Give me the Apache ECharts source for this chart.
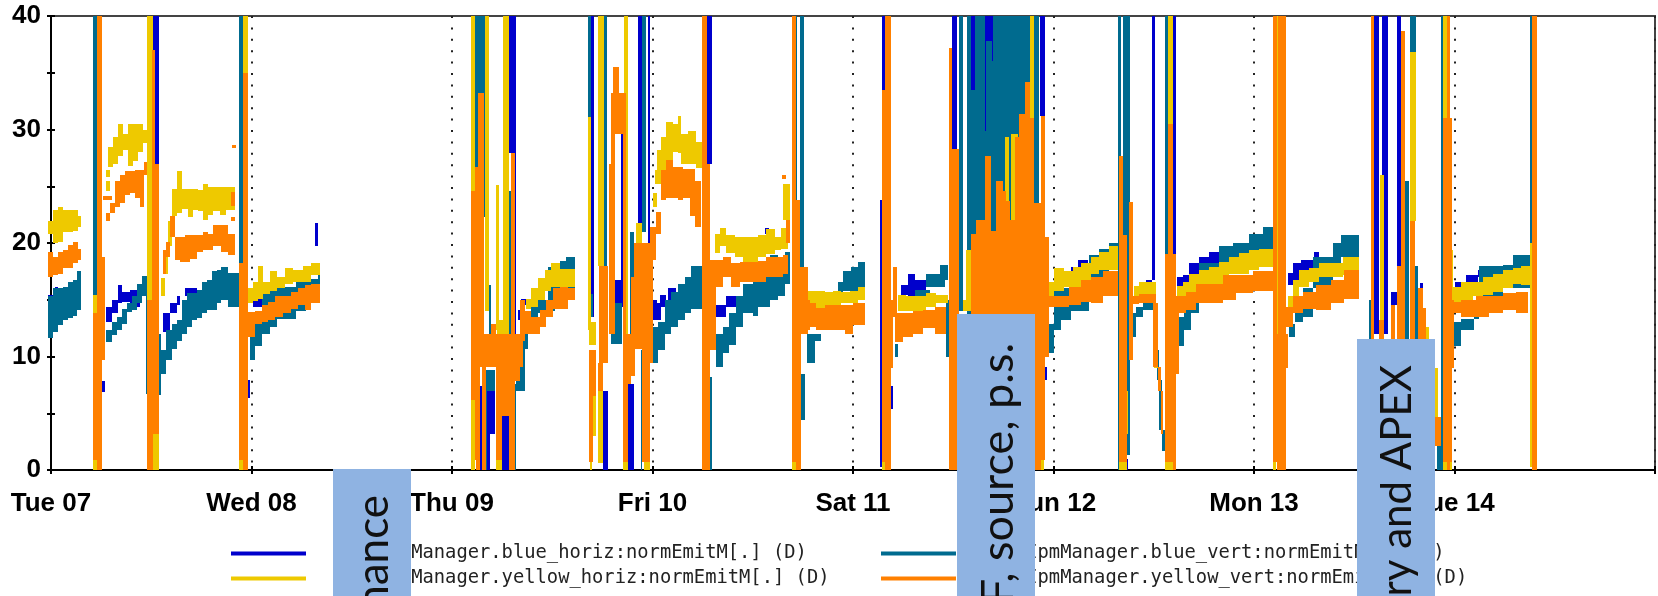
<!DOCTYPE html>
<html><head><meta charset="utf-8">
<style>html,body{margin:0;padding:0;background:#fff}#c{width:1658px;height:596px}</style>
<script src="https://cdn.jsdelivr.net/npm/echarts@6/dist/echarts.min.js"></script>
</head><body><div id="c"></div>
<script>
const dayLabels=["Tue 07","Wed 08","Thu 09","Fri 10","Sat 11","Sun 12","Mon 13","Tue 14",""];
const yTicks=[0,10,20,30,40];
const seriesNames=["RhicIpmManager.blue_horiz:normEmitM[.] (D)","RhicIpmManager.blue_vert:normEmitM[.] (D)","RhicIpmManager.yellow_horiz:normEmitM[.] (D)","RhicIpmManager.yellow_vert:normEmitM[.] (D)"];
// each row: [day from, day to, low value, high value]
const blueHoriz=[[-.013,.012,14.4,15.4],[.018,.037,15.3,16.1],[.252,.269,6.9,7.8],[.272,.302,13,14.4],[.302,.336,13.8,15],[.336,.352,14.7,16.3],[.352,.394,14.8,15.7],[.394,.444,14.4,15.9],[.452,.480,16.6,17.1],[.510,.538,27,40],
[.557,.593,12.2,13.8],[.593,.626,13.8,14.7],[.626,.643,14.5,15.3],[.668,.726,15.3,16],[.983,.995,6.3,7.9],[1.008,1.042,14.4,15.1],[1.042,1.108,14.4,15.6],[1.316,1.332,19.7,21.8],
[2.139,2.150,0,7.4],[2.172,2.190,0,7],[2.190,2.213,3.2,7],[2.247,2.283,0,4.8],[2.283,2.321,27.9,40],[2.313,2.321,12,27.9],[2.330,2.343,13.2,14.1],[2.343,2.371,14.5,15.1],
[2.695,2.710,13.5,40],[2.700,2.717,5.2,7],[2.753,2.778,0,7],[2.811,2.848,14.4,16.7],[2.843,2.858,14.4,33],[2.878,2.906,0,7.6],[2.926,2.949,20,40],[2.928,2.941,12.6,16.5],[2.977,2.986,14.4,40],[2.986,3.02,13.2,15],
[3.011,3.044,13.2,14.7],[3.036,3.069,14.4,15.4],[3.077,3.119,15,16],[3.272,3.298,27,40],[3.277,3.288,14.2,27],[3.318,3.368,13.5,14.5],[3.368,3.418,14.4,15.3],[3.568,3.585,14.4,15.4],[3.560,3.581,20.8,21.3],
[4.133,4.143,.3,23.8],[4.143,4.161,33.5,40],[4.189,4.199,5.4,7.4],[4.241,4.274,15.4,16.3],[4.274,4.307,15.3,17.3],[4.307,4.365,15.3,16.7],[4.493,4.520,28.3,40],[4.588,4.606,33.5,40],[4.656,4.664,29.9,40],[4.664,4.692,37.8,40],[4.692,4.700,36,40],[4.932,4.958,31.2,40],[4.960,4.966,7.9,9.1],
[5.087,5.112,17.3,17.9],[5.121,5.171,17.9,18.5],[5.365,5.373,0,1],[5.461,5.489,16.5,16.7],[5.489,5.508,16.7,40],[5.594,5.611,19,40],[5.614,5.644,15.3,17],[5.644,5.677,16.3,17.2],[5.677,5.727,17,18.2],[5.727,5.777,18.2,18.8],[5.777,5.827,18.2,19.2],
[6.168,6.193,16.3,17.4],[6.193,6.235,16.6,18.2],[6.235,6.293,17.3,18.5],[6.301,6.326,18.5,19.2],[6.393,6.409,19.7,20],[6.600,6.625,12,40],[6.638,6.667,12,40],[6.713,6.731,18,40],[6.683,6.712,14.5,15.7],[6.828,6.844,14.8,16.5],
[7.004,7.057,15.6,16.6],[7.057,7.115,16.3,17.2],[7.115,7.140,17,17.6],[7.140,7.190,16.6,17.3]];
const blueVert=[[-.013,.012,11.6,15.3],[.012,.037,12.2,16],[.037,.061,12.8,16],[.061,.086,13.2,16.1],[.086,.111,13.4,16.6],[.111,.128,13.6,16.7],[.128,.148,14.1,17.5],[.211,.231,15.4,40],
[.272,.302,11.3,12.3],[.302,.327,11.9,13],[.327,.352,12.3,13.5],[.352,.377,12.9,14.2],[.377,.402,13.9,14.7],[.402,.427,14.1,15.3],[.427,.452,14.7,16.4],[.452,.473,15.3,17.1],[.473,.480,6.7,17.1],[.538,.547,6.6,12],
[.551,.576,8.5,10.6],[.576,.601,9.7,12.3],[.601,.626,10.7,12.9],[.626,.651,11.4,13.2],[.651,.676,12,15],[.676,.701,12.6,15.6],[.701,.726,13.2,15.6],[.726,.751,13.4,15.9],[.751,.776,13.8,16.6],[.776,.801,14.1,16.7],[.801,.826,14.1,17.5],[.826,.850,14.7,17.6],[.850,.884,15,17.9],[.884,.937,14.4,17.4],[.937,.958,18.2,40],
[.992,1.017,9.7,13],[1.017,1.050,10.9,14],[1.050,1.091,12,15.7],[1.091,1.125,12.6,16],[1.125,1.158,13.3,16.1],[1.158,1.224,13.3,16.1],[1.224,1.274,14,16.6],[1.274,1.332,14.7,16.8],[1.332,1.344,15.1,17.9],
[2.114,2.130,24.6,40],[2.130,2.173,22.3,40],[2.169,2.172,0,8.8],[2.172,2.213,7,8.8],[2.185,2.197,11.2,16.3],[2.283,2.296,12,24.6],[2.313,2.321,0,7.6],[2.321,2.363,7,11.1],[2.355,2.380,10.7,12],[2.380,2.396,12,13.8],[2.396,2.429,13.2,14.5],[2.429,2.479,13.8,15],[2.479,2.512,14,17.9],[2.512,2.537,15,18],[2.537,2.571,16,18.4],[2.571,2.612,15.3,18.8],
[2.680,2.695,31.1,40],[2.757,2.773,12,40],[2.695,2.703,13.5,15.5],[2.886,2.906,12,21],[2.941,2.949,0,10.6],[2.949,2.966,21,40],[2.795,2.848,11.1,14.7],
[3.0,3.027,9.4,12.6],[3.027,3.061,10.6,13],[3.061,3.094,12,15],[3.094,3.127,12.6,15.7],[3.127,3.160,13.2,16.4],[3.160,3.193,13.8,17],[3.193,3.248,14.2,18],[3.288,3.298,0,8.2],
[3.318,3.351,9.1,12],[3.351,3.384,10.3,12.6],[3.384,3.418,11,13.8],[3.418,3.451,12.6,15.3],[3.451,3.501,13.8,16.4],[3.501,3.527,13.6,16.7],[3.527,3.585,14.4,17.3],[3.585,3.626,15,18.9],[3.626,3.659,15.3,18.8],[3.659,3.688,16.4,19.2],
[3.714,3.723,23.8,40],[3.734,3.754,14.7,40],[3.742,3.759,4.4,8.5],[3.771,3.809,9.4,12],[3.809,3.842,11.4,12],[3.859,3.925,14.4,15.7],[3.925,3.950,15.5,16.6],[3.950,3.992,15.8,17.5],[3.992,4.025,15.8,17.9],[4.025,4.058,15.8,18.3],
[4.211,4.224,10,11.1],[4.307,4.382,15,15.9],[4.365,4.457,16.1,17.3],[4.432,4.473,16.7,18.1],[4.465,4.477,10,15],[4.531,4.548,14,40],[4.568,4.588,12,40],[4.588,4.606,12,33.5],[4.606,4.656,12,40],[4.656,4.664,12,29.9],[4.664,4.692,12,37.8],[4.692,4.700,12,36],[4.700,4.885,12,40],[4.905,4.927,13,40],
[4.971,5.004,10.3,12.9],[5.004,5.038,12.3,15.8],[5.038,5.087,13.2,16],[5.087,5.179,14,16.7],[5.179,5.229,15,18.9],[5.229,5.279,17,19.5],[5.279,5.320,18.8,20],[5.322,5.338,0,40],[5.348,5.383,1.3,40],
[5.395,5.411,11.7,13.8],[5.411,5.445,13.5,14.4],[5.445,5.494,14.1,14.7],[5.494,5.511,12,14.5],[5.503,5.514,10.6,12],[5.514,5.524,7.9,10.6],[5.524,5.541,3.5,7.9],[5.541,5.554,1.7,3.5],[5.558,5.571,19,40],
[5.624,5.652,10.9,13.5],[5.652,5.686,12.3,14.1],[5.686,5.727,13.8,16.4],[5.727,5.827,15,18.2],[5.827,5.893,17.9,19.7],[5.893,5.976,18.5,20],[5.976,6.043,18.8,20.8],[6.043,6.096,19.1,21.4],
[6.177,6.202,11.7,12.9],[6.202,6.243,13,13.8],[6.243,6.293,13.5,16],[6.293,6.393,16,18.8],[6.393,6.434,18,20],[6.434,6.522,18.8,20.7],[6.572,6.584,11,15],[6.751,6.771,11,25.5],[6.780,6.808,36.8,40],[6.805,6.816,11.5,18],[6.913,6.937,0,3],[6.932,6.942,0,40],
[6.999,7.032,10.9,13],[7.032,7.099,12.3,13.3],[7.099,7.123,13.3,15],[7.123,7.240,15,18],[7.240,7.290,16,18.1],[7.290,7.376,16,18.9],[7.376,7.389,20,40]];
const yellowHoriz=[[-.013,.012,20.8,21.9],[.012,.037,20,22.9],[.037,.061,20.1,23.2],[.061,.086,21,22.9],[.086,.111,21,22.9],[.111,.136,21.1,22.9],[.136,.148,21.4,22.4],[.211,.231,0,15.4],
[.272,.294,24.6,25.5],[.272,.294,25.8,26.4],[.286,.311,26.7,28.5],[.311,.336,27,29.3],[.336,.360,27.7,30.5],[.360,.385,28.2,29.6],[.385,.410,26.8,30.5],[.410,.435,27.2,30.5],[.435,.460,28,30.5],[.460,.480,28.8,30],[.480,.510,0,40],[.510,.538,0,3.2],
[.551,.568,15.3,16.9],[.560,.585,17.3,19.4],[.585,.601,19.7,21.9],[.601,.626,22.4,24.8],[.626,.651,22.6,26.3],[.651,.684,23,24.8],[.684,.709,22.3,24.8],[.709,.734,22.9,24.8],[.734,.759,22.8,24.7],[.759,.784,22,25.2],[.784,.809,22.5,24.9],[.809,.842,22.8,24.9],[.842,.875,22.5,24.9],[.875,.917,22.9,24.9],[.937,.958,0,.9],[.958,.983,35,40],
[.983,1.008,14.7,16],[1.008,1.033,14.9,16.6],[1.033,1.058,15.1,18],[1.058,1.091,15.5,16.6],[1.091,1.125,15.8,17.5],[1.125,1.166,16,17],[1.166,1.208,16.4,17.8],[1.208,1.257,16.6,17.6],[1.257,1.299,16.6,18],[1.299,1.344,17.2,18.2],
[2.094,2.114,0,40],[2.164,2.185,14,40],[2.218,2.235,12.3,25.1],[2.255,2.283,11.4,40],[2.217,2.247,0,.9],[2.225,2.283,11.4,13.2],[2.371,2.396,14.2,15.1],[2.396,2.429,14.4,16],[2.429,2.463,15,16.9],[2.463,2.496,15.8,17.6],[2.496,2.537,16.1,18.2],[2.537,2.579,16.1,17.7],[2.579,2.612,16.1,17.7],
[2.680,2.695,12.3,31.1],[2.684,2.717,11,13],[2.728,2.757,18,40],[2.858,2.880,12,40],[2.919,2.949,20,21.8],[2.687,2.698,0,.7],[2.695,2.717,3,7],[2.728,2.753,.6,7],[2.853,2.878,0,.7],[2.956,2.986,0,.7],
[3.0,3.022,23.2,24.4],[3.011,3.036,25.2,26.4],[3.022,3.044,25.2,28.2],[3.044,3.069,26.4,29.3],[3.069,3.102,27.3,30.7],[3.102,3.127,28,30.5],[3.127,3.144,27.9,31.2],[3.144,3.177,27,29.6],[3.177,3.218,27,29.9],[3.218,3.248,26.6,28.9],
[3.310,3.335,19.1,20.8],[3.335,3.368,19.7,21.3],[3.368,3.409,19.1,20.7],[3.409,3.451,18.8,20.5],[3.451,3.527,18.3,20.5],[3.527,3.568,18.8,20.7],[3.568,3.610,19,21.2],[3.610,3.643,19.4,20.5],[3.643,3.676,19.5,21.3],[3.651,3.688,22,25.2],[3.698,3.714,0,.7],
[3.776,3.817,14.4,15.8],[3.817,3.859,14.1,15.8],[3.859,3.900,14.4,15.7],[3.900,3.942,14.4,15.8],[3.942,3.983,14.7,15.7],[3.983,4.025,14.7,15.8],[4.025,4.058,15,16.1],[4.143,4.172,0,.7],
[4.224,4.266,14,15.4],[4.266,4.316,14,15.3],[4.316,4.365,14,15.3],[4.365,4.415,14.4,15.6],[4.415,4.473,14.7,15.4],[4.551,4.565,14,15],[4.565,4.590,14,19.4],[4.759,4.777,22,29.3],[4.789,4.822,22,29.6],[4.885,4.905,31,40],[4.938,4.955,0,.9],
[4.976,5.004,15.3,16.6],[5.004,5.054,15.8,17.8],[5.054,5.096,16.1,17.5],[5.096,5.137,16.1,17.9],[5.137,5.187,16.4,18.2],[5.187,5.229,17.3,18.8],[5.229,5.279,17.6,19.2],[5.279,5.320,17.6,19.7],[5.327,5.365,0,.7],[5.365,5.373,3.2,7],
[5.403,5.428,14.7,16.2],[5.428,5.511,15.3,16.6],[5.503,5.519,9,14.5],[5.571,5.594,30.5,40],[5.558,5.594,0,.7],
[5.614,5.644,14.4,16.2],[5.644,5.677,15,16.6],[5.677,5.727,15.5,17.3],[5.727,5.777,15.9,17.6],[5.777,5.827,16.3,17.9],[5.827,5.877,16.4,18.3],[5.877,5.926,17.3,18.8],[5.926,5.976,17.3,19.1],[5.976,6.026,17.6,19.4],[6.026,6.096,17.9,19.5],[6.096,6.109,0,.7],[6.117,6.122,12,40],
[6.168,6.193,14.1,15.3],[6.193,6.226,15.3,16.7],[6.226,6.276,16.1,17.6],[6.276,6.326,16.6,17.8],[6.326,6.376,17,18.2],[6.376,6.442,17,18.2],[6.442,6.522,17.2,18.8],[6.628,6.647,11,26],[6.780,6.808,21.9,36.8],[6.858,6.874,11,12.6],[6.899,6.916,3,9],[6.942,6.962,31,40],[6.942,6.987,0,.7],[6.982,6.991,14.4,19.4],
[6.994,7.032,14.8,16.1],[7.032,7.090,15,16.6],[7.090,7.140,15.3,16.6],[7.140,7.190,15.4,17],[7.190,7.240,15.7,17.3],[7.240,7.290,16,17.6],[7.290,7.331,16.4,17.8],[7.331,7.376,16.3,18],[7.376,7.389,.3,20]];
const yellowVert=[[-.013,.012,17,19.2],[.012,.037,17.2,18.8],[.037,.061,17.3,19.2],[.061,.086,17.8,19.4],[.086,.111,17.8,19.8],[.111,.136,18.2,20.1],[.136,.148,18.5,19.5],
[.211,.231,.9,13.8],[.231,.252,0,40],[.252,.269,9.7,18.8],[.260,.302,23.8,24.1],[.272,.294,21.9,22.6],[.294,.319,22.6,23.5],[.319,.344,23.2,25.5],[.344,.369,23.5,26],[.369,.394,24.2,26.3],[.394,.419,24.4,26.3],[.419,.444,24,26.4],[.444,.463,23.2,26.4],[.463,.480,26,27.1],
[.480,.502,0,15],[.502,.510,0,37],[.510,.518,3.2,37],[.518,.538,3.2,27],[.560,.576,17.3,19.4],[.576,.593,18.8,20.1],[.593,.618,20.5,22.4],[.618,.643,18.5,20.5],[.643,.668,18.3,20.5],[.668,.693,18.3,20.7],[.693,.726,18.6,20.7],[.726,.759,19.2,20.7],[.759,.784,19.4,21],[.784,.809,19.4,20.8],[.809,.850,19.7,21.6],[.850,.884,19.2,21.6],[.884,.917,18.9,20.8],[.900,.917,23.3,24.5],[.900,.917,21.9,22.3],[.905,.925,28.4,28.6],
[.937,.958,.9,18.2],[.958,.983,0,35],[.983,1.017,11.7,13.9],[1.017,1.050,12.9,14],[1.050,1.083,13,14.5],[1.083,1.116,13.2,14.8],[1.116,1.158,13.5,15.3],[1.158,1.199,13.8,15.3],[1.199,1.233,14.2,15.7],[1.233,1.266,14.5,16],[1.266,1.299,14.1,16.3],[1.299,1.344,14.7,16.4],
[2.094,2.122,6.2,24.6],[2.114,2.130,.9,26.7],[2.130,2.159,11,33.2],[2.122,2.139,0,11],[2.150,2.169,0,11],[2.094,2.355,9.1,12],[2.197,2.217,9.7,12.9],[2.217,2.247,.9,9.7],[2.247,2.283,4.8,9.7],[2.283,2.313,0,9.7],[2.293,2.313,12,27.9],[2.313,2.338,7.8,12],[2.338,2.363,11.4,15],[2.363,2.396,12,14],[2.396,2.438,12,13.5],[2.438,2.471,12.6,14.1],[2.471,2.504,13.5,15],[2.504,2.537,14.2,16],[2.537,2.579,14.2,16.1],[2.579,2.612,15,16],
[2.684,2.703,.7,10.6],[2.687,2.720,6.5,10.6],[2.733,2.778,9.4,18],[2.728,2.753,7,9.4],[2.783,2.806,12,27],[2.795,2.811,12,33.2],[2.795,2.853,29.6,33.2],[2.803,2.831,33,35.5],[2.853,2.870,12,33.2],[2.853,2.878,.7,12],[2.878,2.894,7.6,12],[2.894,2.911,8.3,17],[2.906,2.949,10.7,20],[2.949,2.986,.7,20],[2.986,3.002,9.4,21.4],
[2.994,3.019,18.5,21.4],[3.019,3.044,20.8,22.7],[3.044,3.069,23.8,26.4],[3.069,3.102,24,27.3],[3.102,3.127,24,26.7],[3.127,3.152,23.8,26.7],[3.152,3.185,24,26.5],[3.185,3.210,22.4,26.5],[3.210,3.243,21.4,25.5],[3.248,3.272,0,40],[3.272,3.288,0,27],[3.288,3.318,10.6,18.5],
[3.293,3.351,16.1,18.5],[3.351,3.393,17,18.8],[3.393,3.434,16.1,18.2],[3.434,3.527,16.6,18.3],[3.527,3.568,16.6,18.4],[3.568,3.651,17,18.8],[3.651,3.676,17.3,18.9],[3.668,3.684,20,22],[3.646,3.668,25.6,26],
[3.698,3.714,.7,40],[3.714,3.734,0,23.8],[3.734,3.742,0,14.7],[3.734,3.776,12,17.9],[3.751,3.784,12.3,15],[3.784,3.817,12.6,14.7],[3.817,3.859,12.3,14.3],[3.859,3.900,12.3,14.5],[3.900,3.958,12.3,14.5],[3.958,4.0,12,14.5],[4.0,4.058,12.8,14.7],
[4.143,4.161,.7,33.5],[4.161,4.189,0,40],[4.189,4.199,9,15],[4.199,4.221,13.5,17.9],[4.211,4.249,11.3,13.8],[4.249,4.299,11.7,13.8],[4.299,4.349,12,14],[4.349,4.407,12.5,14.1],[4.407,4.465,12,14.4],
[4.477,4.493,0,37.2],[4.493,4.518,0,28.3],[4.512,4.531,0,28.3],[4.590,4.615,0,20.8],[4.615,4.656,0,22],[4.656,4.689,0,27.7],[4.689,4.714,0,21.1],[4.714,4.747,0,25.5],[4.747,4.764,0,24.6],[4.764,4.781,0,23.7],[4.781,4.806,0,22],[4.806,4.830,0,29.3],[4.830,4.860,0,31.4],[4.860,4.885,0,34.2],[4.885,4.905,0,31],[4.905,4.939,0,23.5],[4.939,4.958,.9,31.2],[4.955,4.976,10,20.5],
[4.971,5.013,14.4,15.3],[5.013,5.079,14.4,15.3],[5.079,5.137,14.5,16.1],[5.137,5.187,14.8,16.7],[5.187,5.245,14.7,17],[5.245,5.320,15.3,17.5],[5.327,5.365,.7,20.7],[5.327,5.345,.7,27.7],[5.375,5.395,9.7,23.6],
[5.395,5.428,14.6,15.3],[5.428,5.511,14.7,15.5],[5.494,5.519,9.1,14.7],[5.519,5.536,7,9.1],[5.536,5.548,3.2,7],[5.571,5.594,.7,30.5],[5.558,5.611,.7,19],[5.594,5.611,0,19],[5.611,5.624,8.5,15.3],
[5.611,5.661,13.8,15.3],[5.661,5.710,14.1,15.7],[5.710,5.777,14.7,16.4],[5.777,5.843,14.7,16.4],[5.843,5.910,15,17.2],[5.910,5.993,15.6,17.2],[5.993,6.096,15.8,17.5],[6.096,6.117,.7,40],[6.117,6.122,0,12],[6.122,6.162,0,40],[6.162,6.172,9,12],
[6.160,6.193,12.6,14.4],[6.193,6.243,13.8,15.3],[6.243,6.310,14.2,15.7],[6.310,6.384,14.1,16.3],[6.384,6.451,14.7,16.7],[6.451,6.522,15.1,17.6],[6.584,6.600,11,40],[6.625,6.650,11,13.2],[6.683,6.705,11,14.5],[6.713,6.751,11,18],[6.731,6.751,11,38.7],[6.780,6.805,11,21.9],[6.816,6.841,11,16],[6.841,6.858,11,14.3],[6.899,6.932,2.1,4.7],
[6.942,6.962,.7,31],[6.962,6.979,0,40],[6.979,6.987,.7,31],[6.987,6.999,9,15],[6.994,7.032,13.8,14.8],[7.032,7.107,13.5,15],[7.107,7.173,13.5,15.3],[7.173,7.240,13.8,15.3],[7.240,7.306,14.1,15.6],[7.306,7.369,13.8,15.7],[7.389,7.409,0,40]];
const colors=["#0000cc","#006b8f","#eec900","#ff8000"];
const maxDay=8, maxY=40;
const lblFont={fontFamily:"Liberation Sans",fontWeight:"bold",fontSize:26,color:"#000"};
function renderBand(params,api){
  const a=api.coord([api.value(0),api.value(3)]), b=api.coord([api.value(1),api.value(2)]);
  const x0=Math.round(a[0]), x1=Math.max(Math.round(b[0]),x0+1), y0=Math.round(a[1]), y1=Math.max(Math.round(b[1]),y0+1);
  return {type:"rect",shape:{x:x0,y:y0,width:x1-x0,height:y1-y0},style:{fill:api.visual("color")}};
}
const rowsFor=[blueHoriz,blueVert,yellowHoriz,yellowVert];
const series=seriesNames.map((n,i)=>({type:"custom",name:n,renderItem:renderBand,data:rowsFor[i],encode:{x:[0,1],y:[2,3]},itemStyle:{color:colors[i]},z:2+i,animation:false,silent:true}));
const legendAt=[[231,541],[881,541],[231,566],[881,566]];
const legends=legendAt.map((p,i)=>({show:true,data:[{name:seriesNames[i],icon:"rect"}],left:p[0],top:p[1],itemWidth:75,itemHeight:4,selectedMode:false,padding:0,
  textStyle:{fontFamily:"DejaVu Sans Mono",fontSize:18.8,color:"#222",padding:[5,0,0,i%2?20:21],lineHeight:20}}));
const axisLineStyle={show:true,onZero:false,lineStyle:{color:"#000",width:2}};
const tickStyle={lineStyle:{color:"#000",width:2},length:4};
const option={animation:false,backgroundColor:"#fff",
 grid:{left:51,right:2,top:16,bottom:126,show:true,borderColor:"#444",borderWidth:2,backgroundColor:"transparent",containLabel:false},
 legend:legends,
 xAxis:[{type:"value",min:0,max:maxDay,interval:1,axisLine:axisLineStyle,axisTick:tickStyle,
   axisLabel:{...lblFont,margin:21,hideOverlap:false,formatter:v=>dayLabels[v]||""},
   splitLine:{show:true,lineStyle:{type:[2,9.4],color:"#222",width:2}}},
  {type:"value",position:"bottom",min:0,max:maxDay,interval:1,axisLine:{show:false},axisTick:{show:true,inside:true,lineStyle:{color:"#000",width:2},length:4},axisLabel:{show:false},splitLine:{show:false}}],
 yAxis:[{type:"value",min:0,max:maxY,interval:10,axisLine:axisLineStyle,axisTick:tickStyle,
   minorTick:{show:true,splitNumber:2,length:4,lineStyle:{color:"#000",width:2}},
   axisLabel:{...lblFont,margin:10,padding:[5,0,0,0],formatter:v=>yTicks.includes(v)?String(v):""},splitLine:{show:false}},
  {type:"value",position:"left",min:0,max:maxY,interval:10,axisLine:{show:false},axisTick:{show:true,inside:true,length:4,lineStyle:{color:"#000",width:2}},
   minorTick:{show:true,splitNumber:2,length:4,lineStyle:{color:"#000",width:2}},axisLabel:{show:false},splitLine:{show:false}}],
 series:series,
 graphic:{elements:[
  {type:"rect",z:100,shape:{x:333,y:469,width:78,height:127},style:{fill:"#8fb3e2"}},
  {type:"rect",z:100,shape:{x:957,y:314,width:78,height:282},style:{fill:"#8fb3e2"}},
  {type:"rect",z:100,shape:{x:1357,y:339,width:78,height:257},style:{fill:"#8fb3e2"}},
  {type:"text",z:101,x:374,y:495,rotation:Math.PI/2,style:{text:"nance",fontFamily:"Lato",fontSize:44,fill:"#111",align:"right",verticalAlign:"middle"}},
  {type:"text",z:101,x:998,y:343,rotation:Math.PI/2,style:{text:"F, source, p.s.",fontFamily:"Lato",fontSize:45,fill:"#111",align:"right",verticalAlign:"middle"}},
  {type:"text",z:101,x:1397,y:365,rotation:Math.PI/2,style:{text:"ry and APEX",fontFamily:"Lato",fontSize:42,fill:"#111",align:"right",verticalAlign:"middle"}}
 ]}
};
echarts.init(document.getElementById("c"),null,{renderer:"canvas"}).setOption(option);
</script></body></html>
